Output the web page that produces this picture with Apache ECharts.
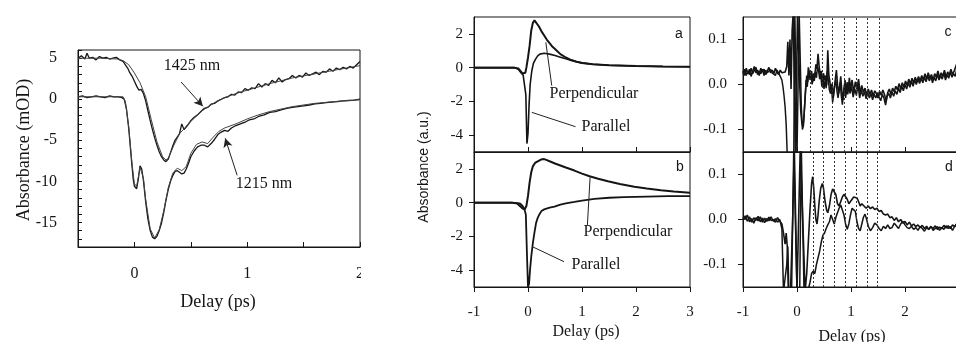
<!DOCTYPE html>
<html><head><meta charset="utf-8">
<script src="https://cdn.jsdelivr.net/npm/echarts@6/dist/echarts.min.js"></script>
<style>html,body{margin:0;padding:0;background:#fff}#c{width:956px;height:342px}</style>
</head><body><div id="c"></div>
<script>
// ---------- Panel 1 (left): delay (ps) vs absorbance (mOD) ----------
const nm1425Data = [[-0.50,5.0],[-0.47,5.3],[-0.44,4.9],[-0.42,5.6],[-0.40,5.0],[-0.37,5.1],[-0.34,4.8],[-0.31,5.2],[-0.28,5.0],[-0.25,5.1],[-0.22,4.9],[-0.19,5.0],[-0.16,5.1],[-0.13,4.8],[-0.10,4.6],[-0.08,4.2],[-0.06,3.8],[-0.04,3.2],[-0.02,2.8],[0.00,2.2],[0.02,1.6],[0.04,1.1],[0.06,1.2],[0.08,0.7],[0.10,-0.2],[0.12,-1.4],[0.14,-2.6],[0.16,-3.7],[0.18,-4.7],[0.20,-5.6],[0.22,-6.4],[0.24,-7.0],[0.26,-7.4],[0.28,-7.6],[0.30,-7.3],[0.32,-6.5],[0.34,-5.7],[0.36,-5.0],[0.38,-4.6],[0.40,-4.2],[0.42,-3.0],[0.44,-3.7],[0.47,-3.2],[0.50,-2.6],[0.53,-2.2],[0.56,-1.9],[0.59,-1.5],[0.62,-1.1],[0.65,-1.0],[0.68,-0.6],[0.71,-0.5],[0.74,-0.2],[0.77,0.0],[0.80,0.2],[0.83,0.3],[0.86,0.6],[0.89,0.5],[0.92,0.9],[0.95,0.8],[0.98,1.3],[1.01,1.1],[1.04,1.4],[1.07,1.3],[1.10,1.9],[1.13,1.5],[1.16,1.9],[1.19,1.7],[1.22,2.3],[1.25,2.0],[1.28,2.6],[1.31,2.1],[1.34,2.4],[1.37,2.5],[1.40,2.9],[1.43,2.6],[1.46,2.9],[1.49,2.7],[1.52,3.2],[1.55,2.9],[1.58,3.1],[1.61,3.3],[1.64,3.0],[1.67,3.4],[1.70,3.3],[1.73,3.7],[1.76,3.4],[1.79,3.8],[1.82,3.6],[1.85,3.9],[1.88,3.7],[1.91,4.0],[1.94,3.8],[1.97,4.2],[2.00,4.6]];
const nm1425Fit = [[-0.5,5.0],[-0.3,5.0],[-0.15,4.9],[-0.1,4.7],[-0.05,4.2],[0,3.2],[0.05,2.0],[0.1,0.3],[0.15,-2.5],[0.2,-5.2],[0.25,-7.0],[0.28,-7.4],[0.3,-7.2],[0.35,-5.6],[0.4,-4.2],[0.5,-2.7],[0.6,-1.4],[0.7,-0.5],[0.8,0.2],[0.9,0.7],[1.0,1.1],[1.2,1.9],[1.4,2.6],[1.6,3.1],[1.8,3.6],[2.0,4.1]];
const nm1215Data = [[-0.50,0.3],[-0.46,0.4],[-0.42,0.2],[-0.38,0.3],[-0.34,0.4],[-0.30,0.3],[-0.26,0.2],[-0.22,0.4],[-0.18,0.3],[-0.14,0.3],[-0.11,0.2],[-0.09,0.0],[-0.07,-1.2],[-0.05,-3.6],[-0.03,-6.8],[-0.01,-9.8],[0.00,-10.6],[0.02,-10.9],[0.035,-9.7],[0.05,-8.1],[0.065,-8.5],[0.08,-9.9],[0.10,-12.5],[0.12,-14.6],[0.14,-16.0],[0.16,-16.8],[0.18,-17.0],[0.20,-16.7],[0.22,-16.0],[0.24,-15.1],[0.26,-13.8],[0.28,-12.3],[0.30,-11.0],[0.32,-10.0],[0.34,-9.3],[0.36,-8.8],[0.38,-8.7],[0.40,-8.9],[0.42,-9.1],[0.44,-9.0],[0.46,-8.5],[0.48,-7.8],[0.50,-7.0],[0.53,-6.3],[0.56,-5.8],[0.59,-5.6],[0.62,-5.6],[0.65,-5.8],[0.68,-5.4],[0.71,-4.9],[0.74,-4.3],[0.77,-4.0],[0.80,-3.8],[0.83,-3.9],[0.86,-3.5],[0.90,-3.2],[0.94,-3.0],[0.98,-2.8],[1.02,-2.5],[1.06,-2.4],[1.10,-2.1],[1.15,-1.9],[1.20,-1.6],[1.25,-1.5],[1.30,-1.3],[1.35,-1.1],[1.40,-1.0],[1.45,-0.9],[1.50,-0.8],[1.55,-0.7],[1.60,-0.55],[1.65,-0.5],[1.70,-0.4],[1.75,-0.35],[1.80,-0.3],[1.85,-0.2],[1.90,-0.15],[1.95,-0.1],[2.00,0.0]];
const nm1215Fit = [[-0.5,0.3],[-0.1,0.3],[-0.08,-0.3],[-0.05,-3.4],[-0.02,-8.0],[0.0,-10.3],[0.02,-10.6],[0.05,-8.3],[0.08,-9.6],[0.1,-12.2],[0.14,-15.8],[0.18,-16.9],[0.22,-15.9],[0.26,-13.6],[0.30,-10.8],[0.34,-9.0],[0.38,-8.4],[0.42,-8.7],[0.46,-8.2],[0.5,-6.6],[0.55,-5.5],[0.6,-5.2],[0.65,-5.4],[0.7,-4.6],[0.75,-3.9],[0.8,-3.5],[0.9,-3.0],[1.0,-2.4],[1.1,-1.9],[1.2,-1.5],[1.4,-0.9],[1.6,-0.5],[1.8,-0.25],[2.0,-0.05]];
const arrow1425 = [[0.414,2.1],[0.607,-0.85]];
const arrow1215 = [[0.911,-9.27],[0.805,-4.76]];

// ---------- Panel a ----------
const perpA = [[-1,0],[-0.5,0],[-0.25,0],[-0.18,-0.05],[-0.14,-0.2],[-0.1,-0.35],[-0.07,-0.4],[-0.05,-0.3],[-0.03,0.0],[0.0,0.6],[0.03,1.3],[0.06,2.2],[0.09,2.65],[0.12,2.8],[0.15,2.75],[0.2,2.45],[0.25,2.15],[0.3,1.9],[0.35,1.65],[0.4,1.45],[0.45,1.25],[0.5,1.1],[0.6,0.8],[0.7,0.6],[0.8,0.45],[0.9,0.35],[1.0,0.28],[1.2,0.2],[1.5,0.14],[2.0,0.1],[2.5,0.07],[3.0,0.05]];
const parA = [[-1,0],[-0.5,0],[-0.25,0],[-0.18,-0.1],[-0.13,-0.3],[-0.09,-0.45],[-0.06,-0.55],[-0.04,-1.6],[-0.02,-4.5],[0.0,-3.9],[0.02,-2.2],[0.04,-1.0],[0.07,-0.2],[0.1,0.25],[0.14,0.5],[0.18,0.7],[0.22,0.8],[0.3,0.85],[0.4,0.8],[0.5,0.72],[0.6,0.62],[0.7,0.52],[0.8,0.43],[0.9,0.35],[1.0,0.28],[1.2,0.2],[1.5,0.14],[2.0,0.1],[2.5,0.07],[3.0,0.05]];
const pointerPerpA = [[0.44,-1.07],[0.33,1.5]];
const pointerParA = [[0.88,-3.5],[0.07,-2.65]];

// ---------- Panel b ----------
const perpB = [[-1,0],[-0.5,0],[-0.3,0],[-0.2,-0.05],[-0.15,-0.2],[-0.1,-0.35],[-0.06,-0.4],[-0.03,-0.2],[0.0,0.4],[0.03,1.2],[0.06,1.8],[0.09,2.15],[0.13,2.35],[0.18,2.45],[0.24,2.55],[0.3,2.58],[0.35,2.52],[0.4,2.45],[0.5,2.32],[0.6,2.2],[0.7,2.08],[0.86,1.9],[1.0,1.72],[1.14,1.56],[1.3,1.42],[1.48,1.27],[1.7,1.1],[1.97,0.94],[2.2,0.84],[2.46,0.74],[2.7,0.66],[3.0,0.58]];
const parB = [[-1,0],[-0.5,0],[-0.3,0],[-0.15,-0.05],[-0.1,-0.2],[-0.07,-0.35],[-0.04,-0.7],[-0.02,-3.0],[0.0,-5.0],[0.02,-4.8],[0.04,-3.9],[0.06,-3.2],[0.09,-2.4],[0.12,-1.76],[0.15,-1.2],[0.18,-0.9],[0.21,-0.7],[0.25,-0.5],[0.3,-0.4],[0.4,-0.3],[0.49,-0.24],[0.6,-0.12],[0.7,-0.04],[0.86,0.04],[1.0,0.12],[1.23,0.22],[1.5,0.29],[1.78,0.33],[2.2,0.36],[2.6,0.38],[3.0,0.39]];
const pointerPerpB = [[1.1,-1.33],[1.15,1.5]];
const pointerParB = [[0.667,-3.5],[0.08,-2.61]];

// ---------- Panel c ----------
const c1 = [[-1.00,0.030],[-0.97,0.020],[-0.94,0.036],[-0.91,0.024],[-0.88,0.034],[-0.85,0.018],[-0.82,0.030],[-0.79,0.040],[-0.76,0.026],[-0.73,0.032],[-0.70,0.020],[-0.67,0.036],[-0.64,0.028],[-0.61,0.034],[-0.58,0.022],[-0.55,0.030],[-0.52,0.038],[-0.49,0.026],[-0.46,0.032],[-0.43,0.024],[-0.40,0.036],[-0.37,0.028],[-0.34,0.022],[-0.31,0.032],[-0.28,0.026],[-0.25,0.030],[-0.22,0.028],[-0.19,0.040],[-0.17,0.095],[-0.15,0.020],[-0.13,0.100],[-0.11,-0.010],[-0.09,0.120],[-0.07,0.160],[-0.05,0.160],[-0.03,-0.160],[-0.01,-0.160],[0.01,0.160],[0.03,0.160],[0.05,0.000],[0.07,-0.060],[0.09,-0.085],[0.11,-0.095],[0.13,-0.070],[0.15,-0.030],[0.17,0.010],[0.19,-0.005],[0.21,0.038],[0.23,0.042],[0.25,0.015],[0.27,0.030],[0.29,0.005],[0.31,0.025],[0.33,0.020],[0.35,0.045],[0.37,0.035],[0.39,0.068],[0.41,0.040],[0.43,0.020],[0.45,0.030],[0.47,0.000],[0.49,0.025],[0.51,0.010],[0.53,0.020],[0.55,-0.002],[0.57,0.076],[0.59,0.020],[0.61,0.005],[0.63,-0.012],[0.65,0.002],[0.67,-0.030],[0.69,-0.010],[0.71,0.012],[0.73,0.032],[0.75,0.000],[0.77,-0.020],[0.79,-0.005],[0.81,0.018],[0.83,-0.015],[0.85,-0.035],[0.87,-0.010],[0.89,0.010],[0.91,-0.020],[0.93,0.005],[0.95,-0.010],[0.97,0.015],[0.99,-0.012],[1.02,0.010],[1.05,-0.018],[1.08,0.006],[1.11,-0.010],[1.14,0.012],[1.17,-0.020],[1.20,-0.002],[1.23,-0.018],[1.26,-0.008],[1.29,-0.024],[1.32,-0.010],[1.35,-0.022],[1.38,-0.012],[1.41,-0.026],[1.44,-0.014],[1.47,-0.020],[1.50,-0.030],[1.53,-0.015],[1.56,-0.024],[1.59,-0.012],[1.62,-0.022],[1.65,-0.036],[1.68,-0.018],[1.71,-0.010],[1.74,-0.022],[1.77,-0.008],[1.80,-0.016],[1.83,-0.004],[1.86,-0.012],[1.89,0.002],[1.92,-0.010],[1.95,0.004],[1.98,-0.006],[2.01,0.008],[2.04,-0.002],[2.07,0.012],[2.10,0.000],[2.13,0.014],[2.16,0.004],[2.19,0.016],[2.22,0.006],[2.25,0.018],[2.28,0.008],[2.31,0.020],[2.34,0.010],[2.37,0.024],[2.40,0.012],[2.43,0.026],[2.46,0.014],[2.49,0.022],[2.52,0.010],[2.55,0.024],[2.58,0.016],[2.61,0.030],[2.64,0.014],[2.67,0.026],[2.70,0.018],[2.73,0.032],[2.76,0.016],[2.79,0.028],[2.82,0.020],[2.85,0.034],[2.88,0.022],[2.91,0.030],[2.94,0.026],[2.97,0.050],[3.00,0.040]];
const c2 = [[-1.00,0.024],[-0.97,0.034],[-0.94,0.020],[-0.91,0.030],[-0.88,0.022],[-0.85,0.036],[-0.82,0.024],[-0.79,0.028],[-0.76,0.038],[-0.73,0.022],[-0.70,0.030],[-0.67,0.024],[-0.64,0.034],[-0.61,0.020],[-0.58,0.032],[-0.55,0.026],[-0.52,0.022],[-0.49,0.034],[-0.46,0.026],[-0.43,0.030],[-0.40,0.020],[-0.37,0.032],[-0.34,0.028],[-0.31,0.018],[-0.28,0.010],[-0.26,-0.005],[-0.24,-0.025],[-0.22,-0.050],[-0.20,-0.090],[-0.18,-0.160],[-0.12,-0.160],[-0.06,-0.160],[-0.04,0.160],[-0.02,0.160],[0.00,-0.160],[0.02,-0.160],[0.04,0.160],[0.06,0.160],[0.08,-0.050],[0.10,-0.100],[0.12,-0.090],[0.14,-0.050],[0.16,-0.010],[0.18,0.020],[0.20,0.005],[0.22,0.030],[0.24,0.010],[0.26,0.022],[0.28,0.000],[0.30,0.018],[0.32,0.008],[0.34,0.028],[0.36,0.015],[0.38,0.040],[0.40,0.030],[0.42,0.012],[0.44,0.022],[0.46,-0.005],[0.48,0.015],[0.50,-0.010],[0.52,0.010],[0.54,-0.008],[0.56,0.030],[0.58,0.010],[0.60,-0.012],[0.62,-0.020],[0.64,-0.008],[0.66,-0.040],[0.68,-0.020],[0.70,0.000],[0.72,0.010],[0.74,-0.015],[0.76,-0.030],[0.78,-0.012],[0.80,0.005],[0.82,-0.025],[0.84,-0.045],[0.86,-0.020],[0.88,-0.002],[0.90,-0.030],[0.92,-0.010],[0.94,-0.022],[0.96,0.000],[0.98,-0.020],[1.01,-0.005],[1.04,-0.028],[1.07,-0.010],[1.10,-0.024],[1.13,0.000],[1.16,-0.030],[1.19,-0.012],[1.22,-0.026],[1.25,-0.016],[1.28,-0.032],[1.31,-0.018],[1.34,-0.030],[1.37,-0.020],[1.40,-0.034],[1.43,-0.022],[1.46,-0.030],[1.49,-0.018],[1.52,-0.028],[1.55,-0.036],[1.58,-0.022],[1.61,-0.030],[1.64,-0.046],[1.67,-0.026],[1.70,-0.020],[1.73,-0.030],[1.76,-0.016],[1.79,-0.026],[1.82,-0.014],[1.85,-0.022],[1.88,-0.008],[1.91,-0.018],[1.94,-0.004],[1.97,-0.014],[2.00,0.000],[2.03,-0.010],[2.06,0.004],[2.09,-0.006],[2.12,0.008],[2.15,-0.004],[2.18,0.010],[2.21,0.000],[2.24,0.012],[2.27,0.002],[2.30,0.014],[2.33,0.004],[2.36,0.016],[2.39,0.006],[2.42,0.020],[2.45,0.008],[2.48,0.018],[2.51,0.004],[2.54,0.016],[2.57,0.008],[2.60,0.022],[2.63,0.010],[2.66,0.020],[2.69,0.012],[2.72,0.026],[2.75,0.010],[2.78,0.022],[2.81,0.014],[2.84,0.028],[2.87,0.016],[2.90,0.024],[2.93,0.018],[2.96,0.036],[2.99,0.030]];
const dotsC = [0.25, 0.46, 0.66, 0.88, 1.1, 1.31, 1.52];

// ---------- Panel d ----------
const d1 = [[-1.00,0.005],[-0.96,0.0],[-0.92,0.01],[-0.88,-0.005],[-0.84,0.002],[-0.80,-0.008],[-0.76,0.004],[-0.72,-0.003],[-0.68,0.006],[-0.64,-0.006],[-0.60,0.003],[-0.56,-0.004],[-0.52,0.005],[-0.48,-0.002],[-0.44,0.0],[-0.40,-0.006],[-0.36,0.004],[-0.32,-0.003],[-0.28,-0.01],[-0.25,-0.03],[-0.22,-0.055],[-0.20,-0.03],[-0.18,-0.06],[-0.16,-0.16],[-0.12,-0.16],[-0.08,0.0],[-0.05,0.16],[-0.02,0.16],[0.0,-0.16],[0.03,-0.16],[0.06,0.16],[0.09,0.16],[0.12,-0.05],[0.15,-0.16],[0.18,-0.12],[0.21,-0.05],[0.24,0.02],[0.27,0.08],[0.29,0.095],[0.31,0.07],[0.33,0.03],[0.35,0.0],[0.37,-0.01],[0.39,0.01],[0.41,0.04],[0.44,0.07],[0.47,0.08],[0.49,0.07],[0.52,0.04],[0.55,0.02],[0.57,0.015],[0.60,0.03],[0.63,0.055],[0.66,0.068],[0.69,0.072],[0.72,0.055],[0.75,0.035],[0.78,0.03],[0.81,0.04],[0.84,0.05],[0.87,0.056],[0.90,0.055],[0.93,0.045],[0.96,0.035],[0.99,0.04],[1.02,0.045],[1.05,0.05],[1.08,0.053],[1.11,0.048],[1.14,0.04],[1.17,0.03],[1.20,0.035],[1.24,0.03],[1.28,0.025],[1.32,0.03],[1.36,0.024],[1.40,0.028],[1.44,0.022],[1.48,0.025],[1.52,0.018],[1.56,0.02],[1.60,0.012],[1.64,0.01],[1.68,0.012],[1.72,0.004],[1.76,0.006],[1.80,-0.002],[1.84,0.004],[1.88,-0.005],[1.92,0.0],[1.96,-0.008],[2.00,-0.004],[2.04,-0.012],[2.08,-0.006],[2.12,-0.014],[2.16,-0.01],[2.20,-0.016],[2.24,-0.012],[2.28,-0.018],[2.32,-0.013],[2.36,-0.02],[2.40,-0.015],[2.44,-0.022],[2.48,-0.016],[2.52,-0.02],[2.56,-0.014],[2.60,-0.022],[2.64,-0.017],[2.68,-0.02],[2.72,-0.013],[2.76,-0.019],[2.80,-0.014],[2.84,-0.02],[2.88,-0.012],[2.92,-0.016],[2.96,-0.009],[3.00,-0.012]];
const d2 = [[-1.00,0.0],[-0.96,0.008],[-0.92,-0.004],[-0.88,0.006],[-0.84,-0.006],[-0.80,0.004],[-0.76,-0.002],[-0.72,0.007],[-0.68,-0.005],[-0.64,0.003],[-0.60,-0.007],[-0.56,0.002],[-0.52,-0.003],[-0.48,0.006],[-0.44,-0.004],[-0.40,0.002],[-0.36,-0.006],[-0.32,0.0],[-0.28,-0.02],[-0.25,-0.16],[-0.22,-0.16],[-0.19,-0.1],[-0.17,-0.06],[-0.15,-0.16],[-0.1,-0.16],[-0.06,0.16],[-0.03,0.16],[0.0,-0.16],[0.05,-0.16],[0.08,0.16],[0.1,0.16],[0.13,-0.16],[0.2,-0.16],[0.24,-0.14],[0.27,-0.12],[0.30,-0.115],[0.33,-0.12],[0.36,-0.1],[0.39,-0.085],[0.42,-0.07],[0.45,-0.05],[0.48,-0.035],[0.51,-0.03],[0.54,-0.02],[0.57,-0.012],[0.60,-0.005],[0.63,0.01],[0.66,0.0],[0.69,-0.01],[0.72,0.005],[0.75,0.015],[0.78,0.025],[0.81,0.032],[0.84,0.03],[0.87,0.01],[0.90,-0.01],[0.93,-0.022],[0.96,-0.01],[0.99,0.01],[1.02,0.025],[1.05,0.028],[1.08,0.018],[1.11,-0.005],[1.14,-0.02],[1.17,-0.025],[1.20,-0.01],[1.23,0.005],[1.26,0.012],[1.29,0.0],[1.32,-0.015],[1.36,-0.025],[1.40,-0.018],[1.44,-0.008],[1.48,-0.012],[1.52,-0.02],[1.56,-0.025],[1.60,-0.015],[1.64,-0.02],[1.68,-0.012],[1.72,-0.02],[1.76,-0.018],[1.80,-0.008],[1.84,-0.014],[1.88,-0.02],[1.92,-0.01],[1.96,-0.004],[2.00,-0.012],[2.04,-0.018],[2.08,-0.02],[2.12,-0.015],[2.16,-0.022],[2.20,-0.018],[2.24,-0.024],[2.28,-0.016],[2.32,-0.02],[2.36,-0.026],[2.40,-0.018],[2.44,-0.022],[2.48,-0.015],[2.52,-0.024],[2.56,-0.02],[2.60,-0.016],[2.64,-0.024],[2.68,-0.018],[2.72,-0.022],[2.76,-0.014],[2.80,-0.02],[2.84,-0.016],[2.88,-0.024],[2.92,-0.015],[2.96,-0.01],[3.00,-0.018]];
const dotsD = [0.3, 0.49, 0.69, 0.89, 1.09, 1.3, 1.49];

// ---------- tick values ----------
const ticksX1Labels = [0, 1, 2];
const ticksY1Labels = [-15, -10, -5, 0, 5];
const ticksYab = [-4, -2, 0, 2];
const ticksYcd = [-0.1, 0, 0.1];

const SERIF = '"Liberation Serif","Times New Roman",serif';
const SANS = '"Liberation Sans",Arial,sans-serif';
const INK = '#151515';

const chart = echarts.init(document.getElementById('c'), null, {renderer: 'canvas'});

function grid(left, top, width, height) {
  return {left, top, width, height, show: true, borderColor: INK, borderWidth: 1, backgroundColor: 'transparent',
    containLabel: false, outerBoundsMode: 'none'};
}
function xAx(gi, min, max, interval, opts) {
  return Object.assign({
    type: 'value', gridIndex: gi, min, max, interval,
    axisLine: {show: true, onZero: false, lineStyle: {color: INK, width: 1}},
    splitLine: {show: false},
    axisTick: {show: true, inside: true, length: 5, lineStyle: {color: INK}},
    axisLabel: {show: false}
  }, opts);
}
function yAx(gi, min, max, interval, opts) {
  return Object.assign({
    type: 'value', gridIndex: gi, min, max, interval,
    axisLine: {show: true, onZero: false, lineStyle: {color: INK, width: 1}},
    splitLine: {show: false},
    axisTick: {show: true, inside: false, length: 5, lineStyle: {color: INK}},
    axisLabel: {show: false}
  }, opts);
}
function lineSeries(xi, data, width, extra) {
  return Object.assign({
    type: 'line', xAxisIndex: xi, yAxisIndex: xi, data, symbol: 'none', smooth: false,
    lineStyle: {color: INK, width}, clip: true, silent: true, animation: false
  }, extra || {});
}
function pointer(coords, arrow) {
  return {
    silent: true, symbol: arrow ? ['none', 'arrow'] : ['none', 'none'], symbolSize: [7, 9],
    label: {show: false}, animation: false,
    lineStyle: {color: '#222', width: 1, type: 'solid'},
    data: [[{coord: coords[0]}, {coord: coords[1]}]]
  };
}
function dotLines(vals) {
  return {
    silent: true, symbol: ['none', 'none'], label: {show: false}, animation: false,
    lineStyle: {color: '#333', width: 1, type: [2, 2]},
    data: vals.map(v => ({xAxis: v}))
  };
}
function txt(text, x, y, font, rot) {
  return {type: 'text', x, y, rotation: rot || 0, z: 100,
    style: {text, font, fill: INK, align: 'center', verticalAlign: 'middle', textAlign: 'center', textVerticalAlign: 'middle'}};
}

const option = {
  animation: false,
  backgroundColor: '#fff',
  grid: [grid(78, 50, 282, 197), grid(474, 17, 216, 135), grid(474, 152, 216, 135), grid(743, 17, 216, 135), grid(743, 152, 216, 135)],
  xAxis: [
    xAx(0, -0.5, 2, 0.5, {axisLabel: {show: true, customValues: ticksX1Labels, margin: 19, fontFamily: SERIF, fontSize: 16, color: INK,
      formatter: v => String(v)}}),
    xAx(1, -1, 3, 1, {}),
    xAx(2, -1, 3, 1, {axisTick: {show: true, inside: false, length: 5, lineStyle: {color: INK}},
      axisLabel: {show: true, margin: 18, fontFamily: SERIF, fontSize: 15, color: INK}}),
    xAx(3, -1, 3, 1, {}),
    xAx(4, -1, 3, 1, {axisTick: {show: true, inside: false, length: 5, lineStyle: {color: INK}},
      axisLabel: {show: true, margin: 18, fontFamily: SERIF, fontSize: 15, color: INK}})
  ],
  yAxis: [
    yAx(0, -18, 6, 1, {axisTick: {show: true, inside: true, length: 4, lineStyle: {color: INK}},
      axisLabel: {show: true, customValues: ticksY1Labels, margin: 21, fontFamily: SERIF, fontSize: 16, color: INK}}),
    yAx(1, -5, 3, 1, {axisTick: {show: true, inside: false, length: 5, customValues: ticksYab, lineStyle: {color: INK}},
      axisLabel: {show: true, customValues: ticksYab, margin: 11, fontFamily: SERIF, fontSize: 15, color: INK}}),
    yAx(2, -5, 3, 1, {axisTick: {show: true, inside: false, length: 5, customValues: ticksYab, lineStyle: {color: INK}},
      axisLabel: {show: true, customValues: ticksYab, margin: 11, fontFamily: SERIF, fontSize: 15, color: INK}}),
    yAx(3, -0.15, 0.15, 0.05, {axisTick: {show: true, inside: false, length: 5, customValues: ticksYcd, lineStyle: {color: INK}},
      axisLabel: {show: true, customValues: ticksYcd, margin: 16, fontFamily: SERIF, fontSize: 15, color: INK, formatter: v => v.toFixed(1)}}),
    yAx(4, -0.15, 0.15, 0.05, {axisTick: {show: true, inside: false, length: 5, customValues: ticksYcd, lineStyle: {color: INK}},
      axisLabel: {show: true, customValues: ticksYcd, margin: 16, fontFamily: SERIF, fontSize: 15, color: INK, formatter: v => v.toFixed(1)}})
  ],
  series: [
    lineSeries(0, nm1425Data, 1.3, {markLine: pointer(arrow1425, true)}),
    lineSeries(0, nm1425Fit, 1.0, {lineStyle: {color: '#444', width: 1}}),
    lineSeries(0, nm1215Data, 1.3, {markLine: pointer(arrow1215, true)}),
    lineSeries(0, nm1215Fit, 1.0, {lineStyle: {color: '#444', width: 1}}),
    lineSeries(1, perpA, 2.0, {markLine: pointer(pointerPerpA, false)}),
    lineSeries(1, parA, 1.6, {markLine: pointer(pointerParA, false)}),
    lineSeries(2, perpB, 2.0, {markLine: pointer(pointerPerpB, false)}),
    lineSeries(2, parB, 1.8, {markLine: pointer(pointerParB, false)}),
    lineSeries(3, c1, 1.6, {markLine: dotLines(dotsC)}),
    lineSeries(3, c2, 1.5),
    lineSeries(4, d1, 1.6, {markLine: dotLines(dotsD)}),
    lineSeries(4, d2, 1.5)
  ],
  graphic: [
    {type: 'rect', shape: {x: 361, y: 0, width: 42, height: 342}, style: {fill: '#fff'}, z: 90},
    txt('Absorbance (mOD)', 24, 150, '18px ' + SERIF, Math.PI / 2),
    txt('Delay (ps)', 218, 302, '18px ' + SERIF),
    txt('1425 nm', 192, 66, '16px ' + SERIF),
    txt('1215 nm', 264, 184, '16px ' + SERIF),
    txt('Absorbance (a.u.)', 424, 167, '14px ' + SANS, Math.PI / 2),
    txt('Perpendicular', 594, 94, '16px ' + SERIF),
    txt('Parallel', 606, 127, '16px ' + SERIF),
    txt('Perpendicular', 628, 232, '16px ' + SERIF),
    txt('Parallel', 596, 265, '16px ' + SERIF),
    txt('a', 679, 34, '14px ' + SANS),
    txt('b', 680, 167, '14px ' + SANS),
    txt('c', 948, 32, '14px ' + SANS),
    txt('d', 949, 167, '14px ' + SANS),
    txt('Delay (ps)', 586, 332, '16px ' + SERIF),
    txt('Delay (ps)', 852, 337, '16px ' + SERIF)
  ]
};
chart.setOption(option);
</script></body></html>
